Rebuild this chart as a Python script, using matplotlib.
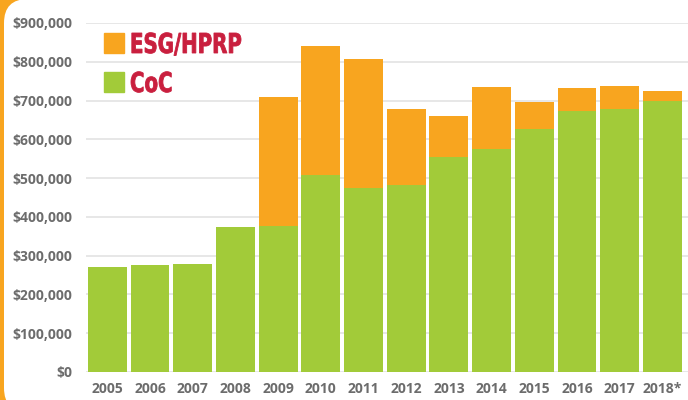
import numpy as np
import matplotlib
matplotlib.use("Agg")
import matplotlib.pyplot as plt
from matplotlib.patches import FancyBboxPatch, Rectangle, PathPatch
from matplotlib.textpath import TextPath
from matplotlib.font_manager import FontProperties
from matplotlib.transforms import Affine2D

# data
years = ["2005", "2006", "2007", "2008", "2009", "2010", "2011",
         "2012", "2013", "2014", "2015", "2016", "2017", "2018*"]
coc = [270000, 276000, 279000, 375000, 377000, 508000, 474000,
       482000, 554000, 575000, 627000, 673000, 678000, 699000]
total = [270000, 276000, 279000, 375000, 710000, 840000, 807000,
         678000, 660000, 735000, 696000, 732000, 737000, 724000]
esg = [t - c for t, c in zip(total, coc)]
legend_labels = ["ESG/HPRP", "CoC"]

green = "#a2cb39"
orange = "#f8a51f"
red = "#c91f3e"
gray = "#6c6c6c"

plt.rcParams['font.family'] = ['Open Sans', 'DejaVu Sans']

fig = plt.figure(figsize=(6.88, 4.0), dpi=100, facecolor=orange)

# white rounded panel over the orange background
panel = FancyBboxPatch((4, -12), 720, 413, boxstyle="round,pad=0,rounding_size=24",
                       transform=None, facecolor='white', edgecolor='none', zorder=-5)
fig.patches.append(panel)

ax = fig.add_axes([0.125, 0.07, 0.875, 0.8725])
ax.set_facecolor('none')

x = np.arange(len(years))
ax.bar(x, coc, width=0.91, color=green, zorder=2)
ax.bar(x, esg, bottom=coc, width=0.91, color=orange, zorder=2)

ax.set_xlim(-0.5, 13.6)
ax.set_ylim(0, 900000)
ax.set_yticks(np.arange(0, 900001, 100000))
ax.set_yticklabels(["$0"] + ["${:,}".format(v) for v in range(100000, 900001, 100000)])
ax.set_xticks(x)
ax.set_xticklabels(years)
ax.grid(axis='y', color='#e3e3e3', linewidth=1.2, zorder=0)
for s in ax.spines.values():
    s.set_visible(False)
ax.tick_params(length=0, colors=gray, labelsize=10, pad=7)
ax.tick_params(axis='y', pad=10)
for lab in ax.get_xticklabels() + ax.get_yticklabels():
    lab.set_fontweight('bold')
    lab.set_color(gray)

# legend: squares + condensed bold text (pixel coords, y up)
fp = FontProperties(family='DejaVu Sans', weight='bold')
cap = TextPath((0, 0), "H", size=10, prop=fp).get_extents().height
for i, (lab, col) in enumerate(zip(legend_labels, [orange, green])):
    ytop = 400 - 33 - 39 * i
    fig.patches.append(Rectangle((104, ytop - 20), 20, 20, transform=None,
                                 color=col, zorder=5))
    tp = TextPath((0, 0), lab, size=10, prop=fp)
    s = 20.0 / cap
    tr = Affine2D().scale(s * 0.72, s).translate(130, ytop - 20)
    fig.patches.append(PathPatch(tr.transform_path(tp), transform=None,
                                 facecolor=red, edgecolor=red, linewidth=0.6, zorder=5))

fig.savefig("out.png", dpi=100, facecolor=orange)
